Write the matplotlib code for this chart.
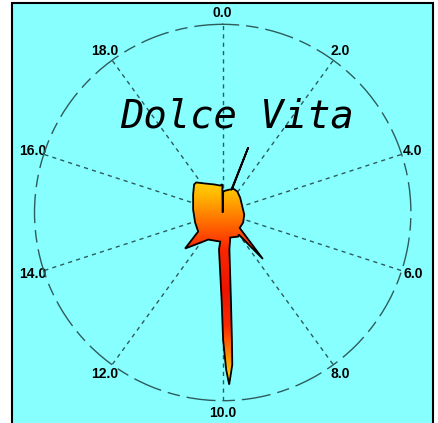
import numpy as np
import matplotlib
matplotlib.use('Agg')
import matplotlib.pyplot as plt
from matplotlib.patches import Rectangle
from matplotlib.colors import LinearSegmentedColormap

# angle on the 0-20 dial, radius as a fraction of the outer circle
theta_units = [0.00, 0.08, 0.50, 1.00, 1.15, 1.19, 1.22, 1.31, 1.92, 2.74,
               4.05, 5.30, 6.44, 7.35, 7.73, 8.00, 8.17, 9.07, 9.43, 9.70,
               9.77, 9.80, 9.88, 9.93, 9.99, 10.04, 10.32, 10.27, 11.57, 11.88,
               12.57, 12.90, 13.89, 15.32, 16.74, 17.47, 17.70, 18.27, 19.06, 19.70,
               19.95]
radius = [0.000, 0.112, 0.119, 0.129, 0.130, 0.372, 0.133, 0.139, 0.136, 0.122,
          0.109, 0.115, 0.121, 0.122, 0.326, 0.145, 0.152, 0.139, 0.200, 0.464,
          0.677, 0.810, 0.915, 0.835, 0.676, 0.463, 0.197, 0.155, 0.163, 0.186,
          0.277, 0.165, 0.156, 0.158, 0.184, 0.213, 0.213, 0.180, 0.156, 0.144,
          0.150]

tick_values = [0, 2, 4, 6, 8, 10, 12, 14, 16, 18]
tick_labels = ['%.1f' % v for v in tick_values]
title = 'Dolce Vita'

W, H = 439, 423
fig = plt.figure(figsize=(W / 100, H / 100), dpi=100)
fig.patch.set_facecolor('white')

# cyan panel with black frame (runs off the bottom edge)
fig.patches.append(Rectangle((12 / W, -0.05), (433 - 12) / W, (H - 3.5) / H + 0.05,
                             transform=fig.transFigure, facecolor='#88ffff',
                             edgecolor='black', lw=1.5, zorder=-1))

ax = fig.add_axes([0.0786, 0.0527, 0.8574, 0.8898], projection='polar')
ax.set_facecolor('none')
ax.set_theta_zero_location('N')
ax.set_theta_direction(-1)
ax.set_ylim(0, 1)
ax.set_yticks([])

grid_col = '#2e5c5c'
ax.set_xticks(np.radians(np.array(tick_values) * 18.0))
ax.set_xticklabels(tick_labels, fontsize=10, fontweight='bold',
                   family='Liberation Sans')
ax.tick_params(axis='x', pad=-2)
ax.xaxis.grid(True, color=grid_col, linestyle=(0, (3, 3)), lw=1.0)
ax.spines['polar'].set_color(grid_col)
ax.spines['polar'].set_linewidth(1.0)
ax.spines['polar'].set_linestyle((0, (20, 6, 8, 6)))

th = np.radians(np.array(theta_units) * 18.0)
outline = ax.fill(th, radius, facecolor='none', edgecolor='black', lw=1.3, zorder=4)[0]

# gradient fill: red band in the lower middle, yellow toward top and bottom
cmap = LinearSegmentedColormap.from_list(
    'dv', [(0.0, '#eb1400'), (0.35, '#fa2800'), (0.6, '#ff7800'),
           (0.8, '#ffb900'), (1.0, '#ffe600')])
th_e = np.linspace(0, 2 * np.pi, 721)
r_e = np.linspace(0, 1, 301)
TH, R = np.meshgrid((th_e[:-1] + th_e[1:]) / 2, (r_e[:-1] + r_e[1:]) / 2)
v = R * np.cos(TH)
v_mid = -0.412
t = np.where(v < v_mid, (v_mid - v) / 0.532, (v - v_mid) / 0.638)
t = np.clip(t, 0, 1)
mesh = ax.pcolormesh(th_e, r_e, t, cmap=cmap, vmin=0, vmax=1,
                     shading='flat', antialiased=False, zorder=3)
mesh.set_clip_path(outline)

fig.text(237 / W, 1 - 127 / H, title, family='DejaVu Sans Mono', style='italic',
         fontsize=28, ha='center', va='baseline', color='black')

fig.savefig('out.png', dpi=100)
